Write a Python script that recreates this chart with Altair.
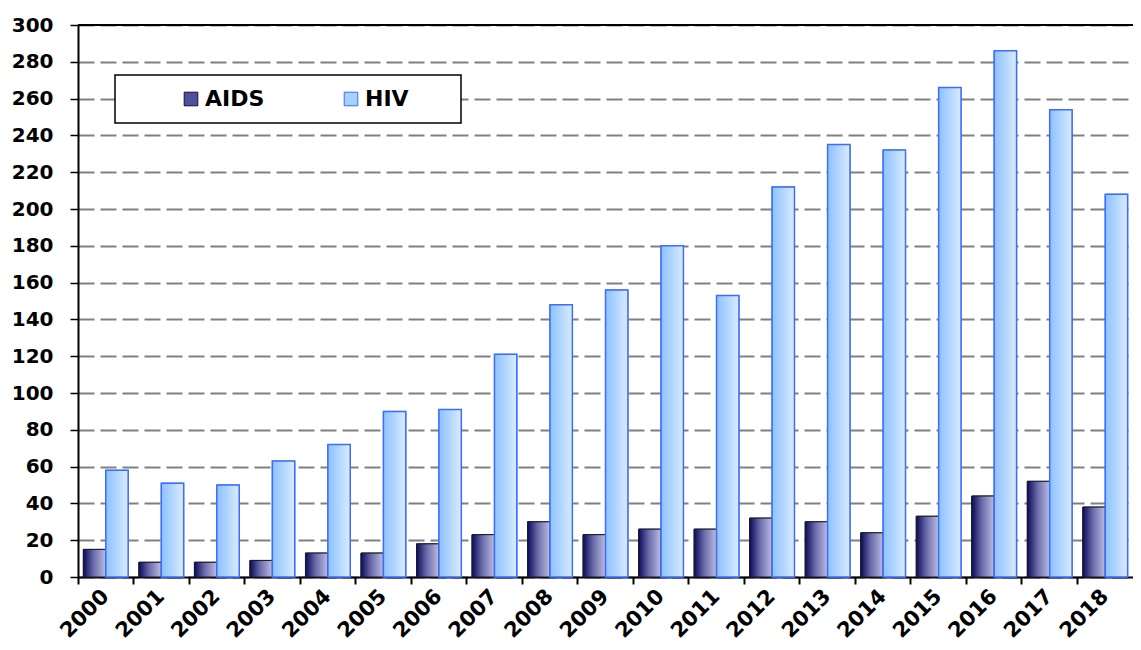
import altair as alt
import pandas as pd

years = [str(y) for y in range(2000, 2019)]
aids = [15, 8, 8, 9, 13, 13, 18, 23, 30, 23, 26, 26, 32, 30, 24, 33, 44, 52, 38]
hiv = [58, 51, 50, 63, 72, 90, 91, 121, 148, 156, 180, 153, 212, 235, 232, 266, 286, 254, 208]
series = ["AIDS", "HIV"]
y_ticks = list(range(0, 301, 20))
y_max = 300

df = pd.DataFrame(
    {"year": years * 2, "series": ["AIDS"] * len(years) + ["HIV"] * len(years), "value": aids + hiv}
)

FONT = "DejaVu Sans"

x_enc = alt.X(
    "year:N",
    title=None,
    sort=years,
    scale=alt.Scale(paddingInner=0, paddingOuter=0),
    axis=alt.Axis(
        bandPosition=0,
        labelAngle=-45,
        labelAlign="right",
        labelBaseline="middle",
        labelPadding=9,
        labelFontSize=21,
        tickSize=7,
        tickWidth=2,
        tickColor="black",
        domainColor="black",
        domainWidth=2,
        grid=False,
    ),
)
xo_enc = alt.XOffset("series:N", scale=alt.Scale(domain=series, paddingOuter=0.24, paddingInner=0))
y_scale = alt.Scale(domain=[0, y_max], nice=False)
y_axis = alt.Axis(
    values=y_ticks,
    tickCount=40,
    labelOverlap=False,
    labelFlush=False,
    tickSize=8,
    tickWidth=1.5,
    tickColor="black",
    labelPadding=17,
    domainColor="black",
    domainWidth=2,
    grid=True,
    gridColor="#808080",
    gridWidth=2,
    gridDash=[16, 6],
)
y_enc = alt.Y("value:Q", title=None, scale=y_scale, axis=y_axis)

base = alt.Chart(df)

legend_def = alt.Legend(
    title=None,
    orient="none",
    legendX=102,
    legendY=63,
    direction="horizontal",
    symbolType="square",
    symbolSize=185,
    symbolStrokeWidth=1,
    labelFont=FONT,
    labelFontSize=22,
    labelFontWeight="bold",
    labelColor="black",
    labelOffset=3,
    columnPadding=75,
    padding=0,
)

solid = base.mark_bar().encode(
    x=x_enc,
    xOffset=xo_enc,
    y=y_enc,
    fill=alt.Fill("series:N", scale=alt.Scale(domain=series, range=["#5050a0", "#a8d0ff"]), legend=legend_def),
    stroke=alt.Stroke("series:N", scale=alt.Scale(domain=series, range=["#101030", "#3d6cff"]), legend=legend_def),
)

aids_grad = alt.Gradient(
    gradient="linear",
    stops=[
        alt.GradientStop(color="#0a0a5a", offset=0),
        alt.GradientStop(color="#6a6aaa", offset=0.45),
        alt.GradientStop(color="#bdbde0", offset=1),
    ],
    x1=0, x2=1, y1=0, y2=0,
)
hiv_grad = alt.Gradient(
    gradient="linear",
    stops=[
        alt.GradientStop(color="#8cc2ff", offset=0),
        alt.GradientStop(color="#b2d6ff", offset=0.5),
        alt.GradientStop(color="#dbecff", offset=1),
    ],
    x1=0, x2=1, y1=0, y2=0,
)

aids_layer = base.transform_filter(alt.datum.series == "AIDS").mark_bar(
    fill=aids_grad, stroke="#1a1a2a", strokeWidth=1
).encode(x=x_enc, xOffset=xo_enc, y=y_enc)

hiv_layer = base.transform_filter(alt.datum.series == "HIV").mark_bar(
    fill=hiv_grad, stroke="#3d6cff", strokeWidth=1.5
).encode(x=x_enc, xOffset=xo_enc, y=y_enc)

box = alt.Chart(pd.DataFrame({"k": [0]})).mark_rect(
    fill="white", stroke="black", strokeWidth=1.5
).encode(x=alt.value(37), x2=alt.value(383), y=alt.value(50), y2=alt.value(98))

top_line = alt.Chart(pd.DataFrame({"k": [0]})).mark_rule(color="black", strokeWidth=2).encode(
    y=alt.YDatum(y_max, type="quantitative", scale=y_scale, axis=y_axis)
)

chart = (
    alt.layer(solid, aids_layer, hiv_layer, box, top_line)
    .properties(
        width=1055,
        height=552,
        autosize=alt.AutoSizeParams(type="none"),
        padding={"left": 70, "top": 17, "right": 0, "bottom": 65},
    )
    .configure_view(stroke=None)
    .configure_axis(
        labelFont=FONT,
        labelFontSize=20,
        labelFontWeight="bold",
        labelColor="black",
    )
)

chart.save("out.html", embed_options={"renderer": "svg", "actions": False})
